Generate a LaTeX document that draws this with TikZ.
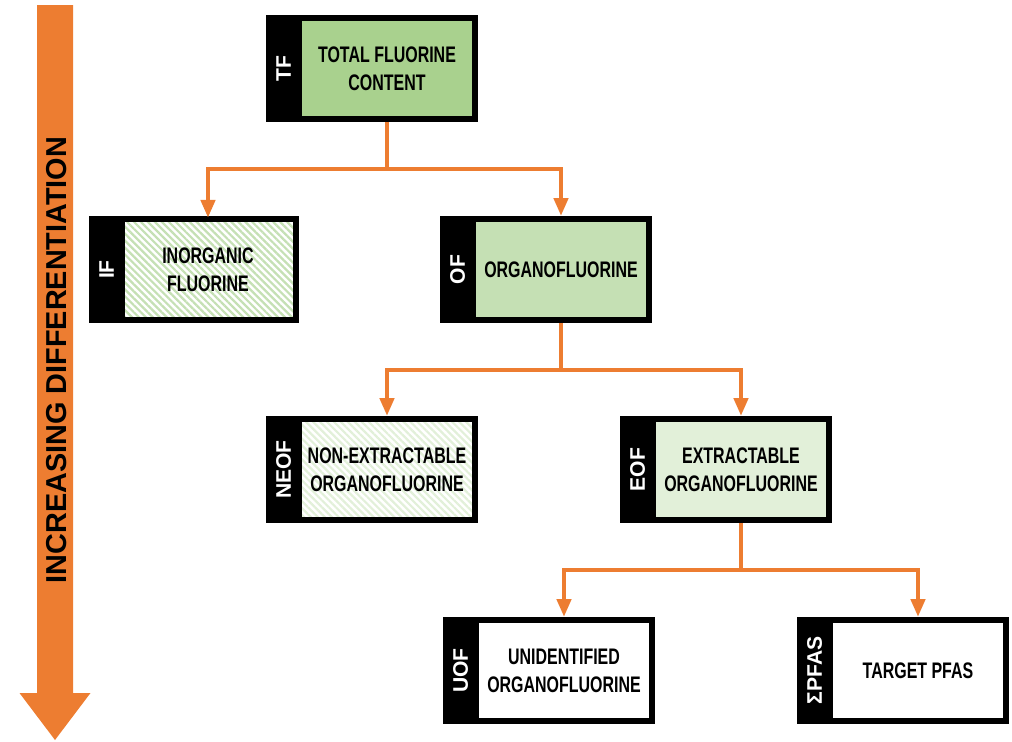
\documentclass[tikz,border=0pt]{standalone}
\usepackage{graphicx}
\usepackage{fontspec}
\setmainfont{Liberation Sans}
\newfontfamily\narrowfont{Liberation Sans}[FakeStretch=0.71]
\usetikzlibrary{arrows.meta,patterns.meta,positioning}
\definecolor{flOrange}{HTML}{ED7D31}
\definecolor{flGreen}{HTML}{A9D18E}
\definecolor{flMid}{HTML}{C5E0B4}
\definecolor{flPale}{HTML}{E2F0D9}

\begin{document}
\begin{tikzpicture}[
  box/.style={draw=black, line width=0.15cm, minimum width=4.4cm, minimum height=2.525cm,
    inner sep=0pt, align=center, font=\narrowfont\bfseries\fontsize{16}{20}\selectfont},
  hatch/.style={pattern={Lines[angle=-45,distance=3.5pt,line width=1.6pt]}, pattern color=#1},
  tag/.style={fill=black, text=white, minimum width=0.9cm, minimum height=2.675cm,
    inner sep=0pt, font=\bfseries\fontsize{15}{18}\selectfont},
  link/.style={draw=flOrange, line width=0.11cm, -{Triangle[width=0.35cm,length=0.45cm]}}
]
  \useasboundingbox (0,0) rectangle (25.3,-18.55);

  % big arrow on the left
  \fill[flOrange] (0.925,-0.125) -- (1.825,-0.125) -- (1.825,-17.325) -- (2.2625,-17.325)
    -- (1.375,-18.5) -- (0.4875,-17.325) -- (0.925,-17.325) -- cycle;
  \node[rotate=90, font=\bfseries\fontsize{20.5}{24}\selectfont] (diffLabel) at (1.425,-9.0)
    {INCREASING DIFFERENTIATION};

  % boxes
  \node[box, fill=flGreen] (tf) at (9.675,-1.7125) {TOTAL FLUORINE\\CONTENT};
  \node[box, hatch=flMid] (inorg) at (5.2,-6.7375) {INORGANIC\\FLUORINE};
  \node[box, fill=flMid] (of) at (14.025,-6.7375) {ORGANOFLUORINE};
  \node[box, hatch=flPale] (neof) at (9.675,-11.7375) {NON-EXTRACTABLE\\ORGANOFLUORINE};
  \node[box, fill=flPale] (eof) at (18.525,-11.7375) {EXTRACTABLE\\ORGANOFLUORINE};
  \node[box, fill=white] (uof) at (14.1,-16.7625) {UNIDENTIFIED\\ORGANOFLUORINE};
  \node[box, fill=white] (pfas) at (22.95,-16.7625) {TARGET PFAS};

  % black tags
  \node[tag, left=-1.5mm of tf] (tfTag) {\rotatebox{90}{TF}};
  \node[tag, left=-1.5mm of inorg] (inorgTag) {\rotatebox{90}{IF}};
  \node[tag, left=-1.5mm of of] (ofTag) {\rotatebox{90}{OF}};
  \node[tag, left=-1.5mm of neof] (neofTag) {\rotatebox{90}{NEOF}};
  \node[tag, left=-1.5mm of eof] (eofTag) {\rotatebox{90}{EOF}};
  \node[tag, left=-1.5mm of uof] (uofTag) {\rotatebox{90}{UOF}};
  \node[tag, left=-1.5mm of pfas] (pfasTag) {\rotatebox{90}{ΣPFAS}};

  % connectors
  \draw[link] (tf.south) -- ++(0,-1.175) -| (inorg.north);
  \draw[link] (tf.south) -- ++(0,-1.175) -| (of.north);
  \draw[link] (of.south) -- ++(0,-1.175) -| (neof.north);
  \draw[link] (of.south) -- ++(0,-1.175) -| (eof.north);
  \draw[link] (eof.south) -- ++(0,-1.175) -| (uof.north);
  \draw[link] (eof.south) -- ++(0,-1.175) -| (pfas.north);
\end{tikzpicture}
\end{document}
